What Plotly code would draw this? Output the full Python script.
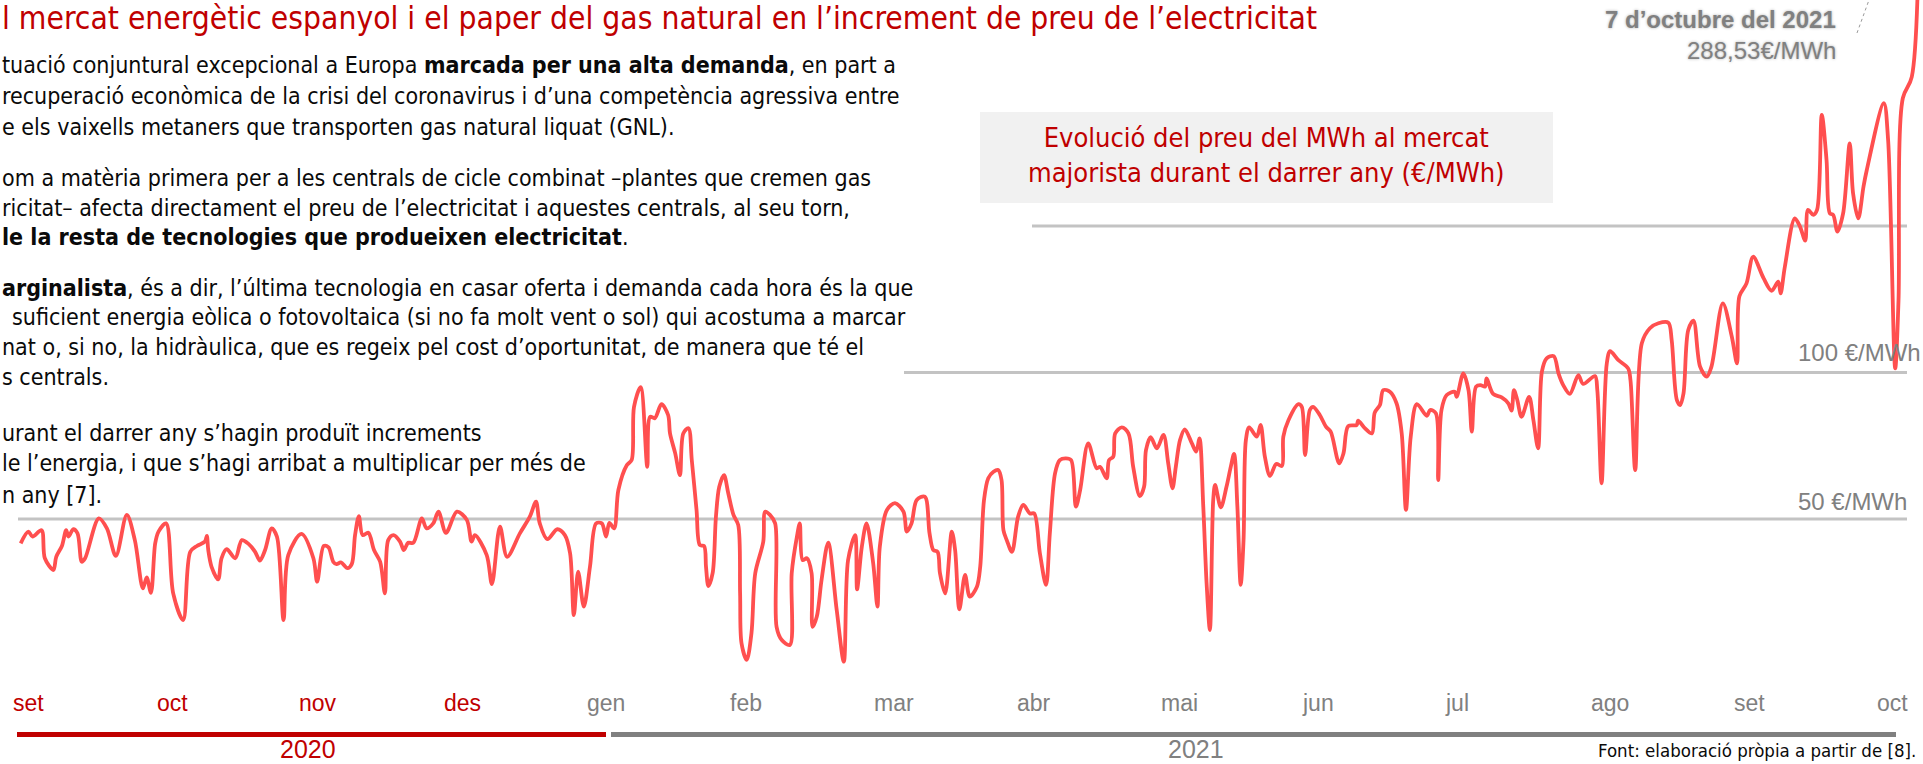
import pandas as pd
import plotly.graph_objects as go

W, H = 1923, 764

# ---------------- data ----------------
start_date = "2020-09-01"
days_since_start = [
    0.0, 1.6, 2.5, 4.4, 5.1, 6.9, 7.5, 8.7, 9.6, 10.1, 11.1, 12.0, 12.9, 13.6, 16.5, 18.2, 20.1, 22.4,
    24.1, 25.8, 26.6, 27.5, 28.4, 29.1, 30.7, 32.2, 34.3, 35.8, 37.2, 38.9, 39.3, 39.6, 40.3, 41.7,
    42.4, 43.5, 45.3, 46.7, 48.1, 49.5, 50.5, 51.6, 53.0, 54.1, 55.5, 56.5, 59.3, 61.8, 62.6,
    64.0, 65.0, 66.0, 66.7, 67.6, 69.0, 69.9, 70.6, 71.4, 72.2, 73.4, 74.6, 75.9, 76.9, 77.6, 78.7,
    80.1, 80.9, 81.8, 82.9, 84.7, 85.7, 87.1, 88.2, 89.8, 92.1, 94.2, 95.2, 95.9, 98.4, 99.5, 101.2,
    102.7, 105.4, 107.5, 108.8, 109.6, 111.2, 113.3, 114.9, 116.0, 116.8, 117.7, 118.9, 120.2, 121.5,
    122.7, 123.6, 124.3, 125.3, 126.2, 128.0, 129.0, 129.5, 130.9,
    132.3, 132.9, 133.9, 135.3, 136.7, 137.1, 138.2, 139.2, 139.9, 141.0, 141.7, 142.7, 143.4, 144.3,
    144.7, 145.2, 146.1, 146.8, 147.5, 148.5, 149.4, 150.5, 151.5, 151.9, 152.2, 153.3, 154.3, 155.1,
    156.8, 157.2, 158.2, 159.3, 159.6, 160.7, 162.4, 162.8, 163.9, 164.5, 165.1, 166.0, 167.0, 167.2,
    168.1, 169.1, 170.5, 172.3, 173.8, 174.7, 176.2, 176.6, 177.6, 178.6, 180.0, 180.9, 181.4, 182.9,
    184.6, 186.4, 187.1, 188.1, 189.2, 190.9, 191.9, 192.7, 193.6, 194.1, 195.2, 196.6, 197.3, 198.2,
    199.4, 200.4,
    201.9, 202.6, 203.4, 204.3, 205.4, 206.4, 207.1, 207.5, 208.2, 209.3, 210.6, 211.7, 213.1, 214.0,
    215.2, 216.5, 217.3, 218.4, 219.4, 220.7, 221.8, 222.8, 223.7, 225.4, 227.2, 227.9, 229.3, 229.8,
    230.7, 231.1, 232.5, 233.9, 234.9, 236.3, 237.2, 237.6, 238.6, 239.9, 241.3, 242.3, 243.2, 243.9,
    244.8, 245.8, 247.3, 248.2, 248.9, 249.7, 250.4, 251.1, 251.8, 252.2, 253.4, 254.6, 255.5, 256.2,
    256.9, 257.6, 258.2, 258.7, 259.4, 261.0, 261.8, 262.7, 263.8, 265.1, 266.3, 266.6, 267.7,
    269.8, 270.5, 271.2, 272.2, 272.9, 274.3, 275.6, 276.6, 278.4, 279.3, 280.3, 282.1, 282.4, 283.8,
    285.3, 285.9, 287.0, 287.7, 289.1, 290.5, 291.6, 292.5, 293.5, 294.8, 296.9, 297.6, 298.8, 299.3,
    300.0, 301.1, 302.8, 303.2, 304.6, 305.7, 306.4, 307.3, 308.2, 309.2, 309.5, 310.9, 312.7, 314.1,
    314.8, 315.3, 316.0, 316.9, 318.5, 319.4, 320.4, 321.2, 322.2, 323.7, 324.7, 325.7, 327.1, 328.9,
    329.9, 332.4, 332.9, 333.8, 334.9, 335.6,
    337.3, 339.4, 339.9, 340.9, 342.3, 344.0, 345.8, 347.9, 348.6, 349.7, 350.4, 351.1, 352.1, 353.2,
    354.6, 356.0, 357.0, 359.4, 361.3, 362.4, 362.9, 364.4, 365.8, 368.0, 369.7, 371.1, 371.6, 372.5,
    374.6, 375.7, 376.8, 377.4, 378.5, 379.3, 380.3, 381.3, 382.0, 382.7, 383.6, 384.8, 386.2, 386.9,
    388.0, 389.1, 389.8, 393.4, 394.3, 395.8, 396.5, 397.4, 399.3, 401.0,
]
price_eur_mwh = [
    41.7, 45.7, 44.0, 46.2, 36.6, 32.6, 37.1, 40.8, 46.2, 44.0, 46.5, 45.1, 35.4, 36.6, 50.2, 46.8, 37.4, 51.4,
    42.8, 26.3, 30.1, 24.8, 41.7, 45.7, 48.5, 24.6, 15.5, 38.8, 40.8, 42.3, 44.2, 39.4, 33.7, 29.4,
    36.6, 39.7, 36.6, 42.8, 41.5, 38.8, 35.8, 39.4, 46.8, 44.0, 15.5, 37.7, 44.9, 36.6, 28.6,
    40.8, 40.3, 35.4, 34.6, 35.2, 33.2, 34.6, 44.5, 51.0, 44.5, 45.3, 39.4, 35.4, 24.6, 42.8, 44.5,
    42.3, 39.4, 41.9, 41.9, 50.2, 46.8, 48.5, 52.5, 45.3, 52.5, 49.7, 42.3, 44.5, 37.7, 27.8, 47.4,
    37.1, 45.1, 50.8, 55.9, 48.5, 43.1, 46.5, 44.5, 38.3, 17.2, 32.0, 20.1, 33.7, 48.5,
    48.5, 44.0, 48.7, 46.8, 59.9, 68.4, 70.1, 88.3, 95.0,
    67.8, 84.9, 84.4, 89.2, 85.5, 79.2, 72.4, 65.0, 79.2, 81.0, 70.1, 53.1, 41.1, 40.8,
    33.7, 27.1, 31.5, 50.8, 61.0, 65.0, 58.8, 51.4, 48.0, 24.6, 7.6, 1.9, 11.0, 31.5,
    42.3, 52.5, 51.4, 48.5, 13.2, 8.7, 7.0, 31.5, 44.0, 48.5, 36.0, 36.6, 31.5, 13.2,
    16.7, 29.2, 41.9, 18.9, 1.3, 36.0, 44.5, 26.0, 40.5, 48.5, 34.9, 20.1, 40.5, 53.1,
    55.4, 52.5, 45.7, 48.5, 56.5, 57.6, 45.1, 39.4, 38.8, 31.5, 24.6, 45.7, 39.4, 19.2,
    30.9, 23.5,
    26.9, 33.7, 56.5, 63.9, 66.1, 66.7, 63.3, 46.2, 42.8, 38.8, 50.8, 54.8, 51.9, 51.9,
    38.3, 27.5, 45.1, 65.6, 70.1, 70.7, 70.1, 54.2, 59.9, 75.8, 67.3, 67.8, 63.9, 70.1,
    71.3, 79.2, 81.3, 79.2, 67.8, 57.8, 61.0, 73.5, 77.9, 74.1, 78.7, 69.0, 60.5, 67.8,
    77.0, 80.6, 75.8, 73.0, 77.5, 54.2, 28.1, 12.1, 56.5, 61.6, 54.0, 61.0, 67.8, 72.2,
    54.2, 27.5, 42.8, 77.0, 81.3, 78.1, 82.1, 71.3, 64.7, 68.8, 68.1, 78.1, 83.8,
    89.2, 88.3, 71.8, 87.2, 88.3, 85.5, 81.5, 79.8, 69.0, 72.4, 81.7, 82.1, 83.6, 81.0,
    79.2, 86.3, 88.9, 94.0, 93.4, 89.5, 79.2, 53.1, 78.1, 89.2, 85.2, 87.2, 86.1, 63.3,
    87.2, 92.3, 93.4, 91.7, 99.7, 94.0, 79.8, 95.2, 95.7, 95.2, 98.0, 92.7, 91.5, 89.5,
    87.0, 94.0, 90.6, 84.9, 91.7, 83.8, 74.1, 100.3, 104.8, 105.6, 99.7, 95.7, 92.7, 99.1,
    96.1, 98.8, 94.0, 62.2, 103.1, 107.3,
    104.3, 101.4, 97.4, 66.7, 110.0, 115.1, 116.8, 117.0, 111.1, 90.6, 88.9, 92.9, 114.5, 117.7,
    102.0, 98.6, 102.0, 123.6, 112.2, 103.1, 126.0, 130.4, 139.5, 132.2, 127.9, 131.0, 127.0, 136.1,
    152.6, 149.8, 145.0, 155.5, 153.8, 155.5, 187.9, 172.5, 154.3, 153.8, 148.1, 154.3, 178.2, 161.2,
    152.6, 163.4, 169.1, 191.9, 179.4, 101.4, 124.7, 193.6, 200.9, 288.53,
]

month_labels = ["set", "oct", "nov", "des", "gen", "feb", "mar", "abr", "mai", "jun", "jul", "ago", "set", "oct"]
month_years = [2020, 2020, 2020, 2020, 2021, 2021, 2021, 2021, 2021, 2021, 2021, 2021, 2021, 2021]
year_labels = ["2020", "2021"]
gridline_values = [50, 100, 150]
gridline_labels = ["50 €/MWh", "100 €/MWh", ""]
peak_date_label = "7 d’octubre del 2021"
peak_value_label = "288,53€/MWh"

title_text = "l mercat energètic espanyol i el paper del gas natural en l’increment de preu de l’electricitat"
box_text = "Evolució del preu del MWh al mercat<br>majorista durant el darrer any (€/MWh)"
source_text = "Font: elaboració pròpia a partir de [8]."
body_lines = [
    "tuació conjuntural excepcional a Europa <b>marcada per una alta demanda</b>, en part a",
    "recuperació econòmica de la crisi del coronavirus i d’una competència agressiva entre",
    "e els vaixells metaners que transporten gas natural liquat (GNL).",
    "om a matèria primera per a les centrals de cicle combinat –plantes que cremen gas",
    "ricitat– afecta directament el preu de l’electricitat i aquestes centrals, al seu torn,",
    "<b>le la resta de tecnologies que produeixen electricitat</b>.",
    "<b>arginalista</b>, és a dir, l’última tecnologia en casar oferta i demanda cada hora és la que",
    "suficient energia eòlica o fotovoltaica (si no fa molt vent o sol) qui acostuma a marcar",
    "nat o, si no, la hidràulica, que es regeix pel cost d’oportunitat, de manera que té el",
    "s centrals.",
    "urant el darrer any s’hagin produït increments",
    "le l’energia, i que s’hagi arribat a multiplicar per més de",
    "n any [7].",
]

# ---------------- layout helpers (pixel placement) ----------------
RED = "#c00000"
LINE_RED = "#ff4f4f"
GREY = "#808080"
GRID = "#c3c3c3"
NARROW = "Liberation Sans Narrow, Arial Narrow, DejaVu Sans Condensed, sans-serif"
SANS = "Liberation Sans, Arial, Helvetica, sans-serif"


def px(x):
    return x / W


def py(y):
    return 1 - y / H


start = pd.Timestamp(start_date)
dates = start + pd.to_timedelta(days_since_start, unit="D")

# axis calibration: first day sits at 20.7 px, 4.736 px per day; 0 €/MWh at 665.5 px, 2.93 px per €/MWh
x0_px, px_per_day = 20.7, 4.736
x_range = [start + pd.Timedelta(days=(0 - x0_px) / px_per_day),
           start + pd.Timedelta(days=(W - x0_px) / px_per_day)]
zero_px, px_per_unit = 665.5, 2.93
y_range = [(zero_px - H) / px_per_unit, zero_px / px_per_unit]

fig = go.Figure()
fig.add_trace(go.Scatter(
    x=dates, y=price_eur_mwh, mode="lines",
    line=dict(color=LINE_RED, width=3.8, shape="spline", smoothing=0.9),
    hoverinfo="skip", showlegend=False,
))

shapes = []
annotations = []

# partial gridlines
grid_spans = [(18, 1907), (904, 1907), (1032, 1907)]
for val, (xa, xb) in zip(gridline_values, grid_spans):
    shapes.append(dict(type="line", xref="paper", yref="y", x0=px(xa), x1=px(xb), y0=val, y1=val,
                       line=dict(color=GRID, width=3), layer="below"))
grid_label_y = [501, 352, None]
for lab, yy in zip(gridline_labels, grid_label_y):
    if lab:
        annotations.append(dict(text=lab, xref="paper", yref="paper", x=px(1796), y=py(yy),
                                xanchor="left", yanchor="middle", showarrow=False,
                                font=dict(family=SANS, size=24, color=GREY)))

# grey box with chart title
shapes.append(dict(type="rect", xref="paper", yref="paper", x0=px(980), x1=px(1553), y0=py(112), y1=py(203),
                   fillcolor="#f1f1f1", line=dict(width=0), layer="below"))
annotations.append(dict(text=box_text, xref="paper", yref="paper", x=px(1266.5), y=py(155),
                        xanchor="center", yanchor="middle", showarrow=False, align="center",
                        font=dict(family=NARROW, size=27, color=RED)))

# page title
annotations.append(dict(text=title_text, xref="paper", yref="paper", x=0, y=py(18),
                        xanchor="left", yanchor="middle", showarrow=False,
                        font=dict(family=NARROW, size=31.5, color=RED)))

# body text lines
body_y = [65, 96, 127, 178, 208, 237, 288, 317, 347, 377, 433, 463, 495]
body_x = [0, 0, 0, 0, 0, 0, 0, 10, 0, 0, 0, 0, 0]
for t, xx, yy in zip(body_lines, body_x, body_y):
    annotations.append(dict(text=t, xref="paper", yref="paper", x=px(xx), y=py(yy),
                            xanchor="left", yanchor="middle", showarrow=False,
                            font=dict(family=NARROW, size=23, color="#0a0a0a")))

# peak annotation
annotations.append(dict(text="<b>" + peak_date_label + "</b>", xref="paper", yref="paper", x=px(1838), y=py(20),
                        xanchor="right", yanchor="middle", showarrow=False,
                        font=dict(family=SANS, size=24, color=GREY, shadow="0px 0px 3px #b0b0b0")))
annotations.append(dict(text=peak_value_label, xref="paper", yref="paper", x=px(1838), y=py(50),
                        xanchor="right", yanchor="middle", showarrow=False,
                        font=dict(family=SANS, size=24, color=GREY, shadow="0px 0px 3px #b0b0b0")))
shapes.append(dict(type="line", xref="paper", yref="paper", x0=px(1857), y0=py(33), x1=px(1869), y1=py(0),
                   line=dict(color="#9a9a9a", width=1, dash="3px,3px")))

# month labels
month_px = [28.8, 172, 318, 462, 606, 746, 894, 1034, 1179, 1318, 1457, 1610, 1749, 1892]
for lab, yr, xx in zip(month_labels, month_years, month_px):
    annotations.append(dict(text=lab, xref="paper", yref="paper", x=px(xx), y=py(703),
                            xanchor="center", yanchor="middle", showarrow=False,
                            font=dict(family=SANS, size=23, color=RED if yr == 2020 else GREY)))

# year bars
shapes.append(dict(type="line", xref="paper", yref="paper", x0=px(17), x1=px(606), y0=py(734.5), y1=py(734.5),
                   line=dict(color=RED, width=5)))
shapes.append(dict(type="line", xref="paper", yref="paper", x0=px(611), x1=px(1896), y0=py(734.5), y1=py(734.5),
                   line=dict(color=GREY, width=5)))
for lab, xx, col in zip(year_labels, [308, 1196], [RED, GREY]):
    annotations.append(dict(text=lab, xref="paper", yref="paper", x=px(xx), y=py(749),
                            xanchor="center", yanchor="middle", showarrow=False,
                            font=dict(family=SANS, size=25, color=col)))

annotations.append(dict(text=source_text, xref="paper", yref="paper", x=px(1918), y=py(750),
                        xanchor="right", yanchor="middle", showarrow=False,
                        font=dict(family=NARROW, size=18.5, color="#0a0a0a")))

fig.update_layout(
    width=W, height=H, autosize=False,
    margin=dict(l=0, r=0, t=0, b=0, pad=0),
    paper_bgcolor="white", plot_bgcolor="white",
    xaxis=dict(range=x_range, visible=False, showgrid=False, zeroline=False, fixedrange=True),
    yaxis=dict(range=y_range, visible=False, showgrid=False, zeroline=False, fixedrange=True),
    shapes=shapes, annotations=annotations,
    showlegend=False,
)

fig.write_html(
    "out.html",
    config={"displayModeBar": False, "responsive": False},
    post_script="document.body.style.margin='0';document.body.style.overflow='hidden';",
)
